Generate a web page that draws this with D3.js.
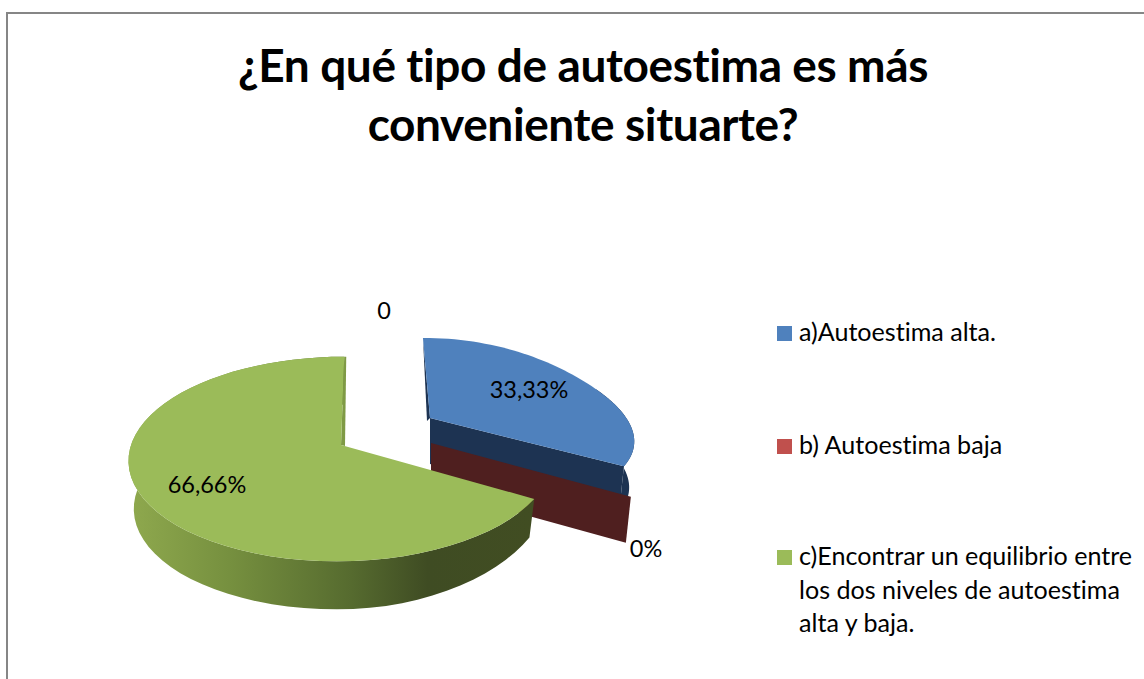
<!DOCTYPE html>
<html><head><meta charset="utf-8">
<script src="https://cdn.jsdelivr.net/npm/d3@7"></script>
<style>html,body{margin:0;padding:0;background:#fff}svg{display:block}text{font-family:Lato,"Open Sans",sans-serif;fill:#000;font-variant-ligatures:none}</style>
</head><body><svg id="c" width="1144" height="679"></svg>
<script>
const titleLines=["¿En qué tipo de autoestima es más","conveniente situarte?"];
const categories=["a)Autoestima alta.","b) Autoestima baja","c)Encontrar un equilibrio entre los dos niveles de autoestima alta y baja."];
const legendLines=[["a)Autoestima alta."],["b) Autoestima baja"],["c)Encontrar un equilibrio entre","los dos niveles de autoestima","alta y baja."]];
const values=[33.33,0,66.66];
const valueLabels=["33,33%","0%","66,66%"];
const colors=["#4f81bd","#c0504d","#9bbb59"];
const wallColors=["#1d3352","#4f1f1f",null];
const stray="0";

const svg=d3.select("#c");
const defs=svg.append("defs");
const g=defs.append("linearGradient").attr("id","gw").attr("gradientUnits","userSpaceOnUse")
 .attr("x1",128).attr("x2",533).attr("y1",0).attr("y2",0);
[[0,"#8fa94e"],[.25,"#76903f"],[.55,"#566b2f"],[.74,"#3f4c23"],[1,"#414d22"]].forEach(s=>g.append("stop").attr("offset",s[0]).attr("stop-color",s[1]));

// frame
svg.append("path").attr("d","M7,679V13H1144").attr("fill","none").attr("stroke","#868686").attr("stroke-width",2);

// title
svg.selectAll("text.t").data(titleLines).join("text").attr("class","t")
 .attr("x",583).attr("y",(d,i)=>82+i*59).attr("text-anchor","middle")
 .attr("font-size",46).attr("letter-spacing",-0.4).attr("font-weight",700).text(d=>d);

// pie angles, clockwise from the top
const arcs=d3.pie().sort(null).startAngle(0).endAngle(2*Math.PI)(values);
const VX=368,VY=-288;
const geom=[
 {x0:-(368-430),h:706,A:205,p:.128,sh:.085,depth:46},
 {x0:-(368-431),h:731,A:210,p:.137,sh:0,depth:46},
 {x0:-(368-341),h:733,A:210,p:.137,sh:0,depth:47}
];
function proj(gm,th,r){
  const rr=r*(1-gm.sh*Math.pow(Math.sin(Math.min(th,2*Math.PI/3)*1.5),2));
  const u=rr*Math.sin(th),v=rr*Math.cos(th),w=1+gm.p*v;
  return [VX+(gm.x0+gm.A*u)/w,VY+gm.h/w];
}
function lower(gm,P){
  const ax=VX+gm.x0;
  const t=Math.max(0,(P[0]-ax)/198);
  const d=gm===geom[2]?gm.depth+1-10*t*t:gm.depth;
  return [ax+(P[0]-ax)*.975,P[1]+d];
}
const line=d3.line();
function rim(gm,a0,a1){return d3.range(0,61).map(i=>proj(gm,a0+(a1-a0)*i/60,1));}
function topPath(gm,a){return line([proj(gm,0,0),...rim(gm,a.startAngle,a.endAngle)])+"Z";}
function wallPath(gm,pts){return line([...pts,...pts.slice().reverse().map(p=>lower(gm,p))])+"Z";}

const layer=svg.append("g");
// blue: walls first
const ga=geom[0],a0=arcs[0];
const ap=proj(ga,0,0),tip0=proj(ga,a0.startAngle,1),tip1=proj(ga,a0.endAngle,1);
layer.append("path").attr("d",wallPath(ga,rim(ga,a0.startAngle+1.2,a0.endAngle))).attr("fill",wallColors[0]);
layer.append("path").attr("d",wallPath(ga,[ap,tip1])).attr("fill",wallColors[0]);
layer.append("path").attr("d",line([tip0,ap,[ap[0]-3,ap[1]+3]])+"Z").attr("fill",wallColors[0]);
layer.append("path").attr("d",topPath(ga,a0)).attr("fill",colors[0]);
// red: zero-width slice, only its cut face shows
const gb=geom[1],a1=arcs[1];
const bA=proj(gb,0,0),bT=proj(gb,a1.startAngle,1);
layer.append("path").attr("d",wallPath(gb,[bA,bT])).attr("fill",wallColors[1]);
// green
const gc=geom[2],a2=arcs[2];
layer.append("path").attr("d",wallPath(gc,rim(gc,a2.startAngle,a2.endAngle))).attr("fill","url(#gw)");
const cA=proj(gc,0,0),cT=proj(gc,a2.endAngle,1);
layer.append("path").attr("d",line([cT,cA,[cA[0]+4,cA[1]+1],[cT[0]+2,cT[1]]])+"Z").attr("fill","#7f9a45");
layer.append("path").attr("d",topPath(gc,a2)).attr("fill",colors[2]);

// labels
const labelPos=[[529,398],[646,557],[207,493]];
svg.selectAll("text.v").data(valueLabels).join("text").attr("class","v")
 .attr("x",(d,i)=>labelPos[i][0]).attr("y",(d,i)=>labelPos[i][1]).attr("text-anchor","middle")
 .attr("font-size",23.5).text(d=>d);
svg.append("text").attr("x",384).attr("y",319).attr("text-anchor","middle").attr("font-size",23.5).text(stray);

// legend
const legY=[326,439,550];
const lg=svg.selectAll("g.l").data(categories).join("g").attr("class","l");
lg.append("rect").attr("x",777).attr("y",(d,i)=>legY[i]).attr("width",15).attr("height",15).attr("fill",(d,i)=>colors[i]);
lg.each(function(d,i){
  d3.select(this).selectAll("text").data(legendLines[i]).join("text")
   .attr("x",799).attr("y",(t,j)=>legY[i]+15+j*33.5).attr("font-size",25.1).text(t=>t);
});
</script></body></html>
